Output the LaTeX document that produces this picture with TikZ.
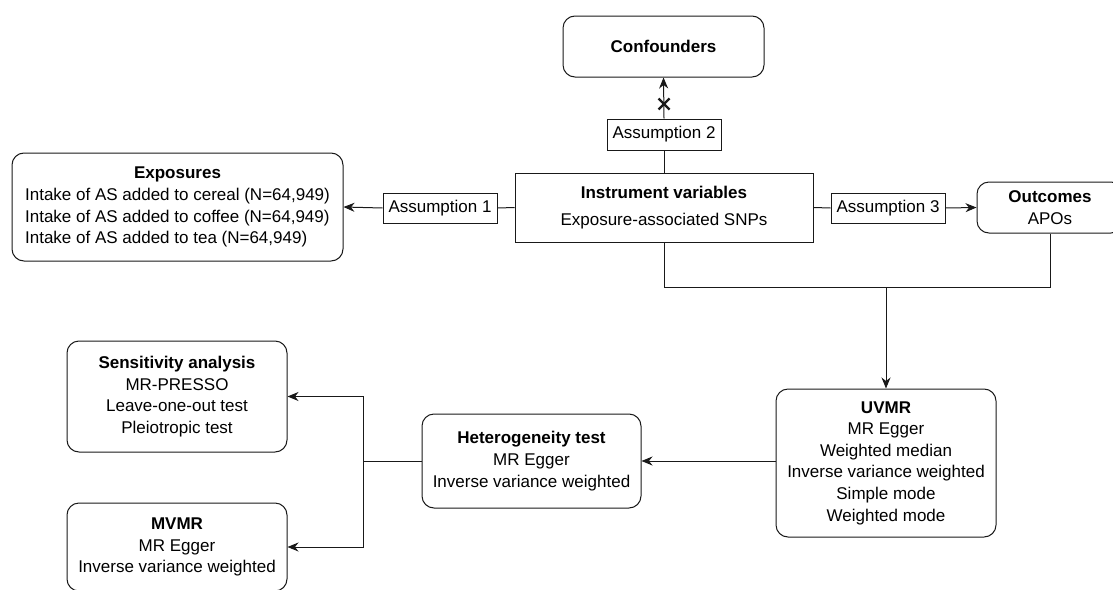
\documentclass[tikz,border=0pt]{standalone}
\usepackage{fontspec}
\setmainfont{Liberation Sans}
\usetikzlibrary{arrows.meta}
\begin{document}
\begin{tikzpicture}[x=1pt,y=-1pt,
  every node/.style={font=\fontsize{17}{21.6}\selectfont, text=black},
  rbox/.style={draw=black!90, rounded corners=12pt, line width=1pt, align=center, inner sep=0pt},
  sbox/.style={draw=black!90, line width=1pt, align=center, inner sep=0pt},
  conn/.style={line width=1pt, draw=black!90},
  arr/.style={conn, -{Stealth[length=11pt,width=9pt,inset=3.5pt]}}]
\useasboundingbox (0,0) rectangle (1113,589);
\clip (0,0) rectangle (1113,589);

\node[rbox, minimum width=201pt, minimum height=61pt] (conf) at (663.5,46.5) {\textbf{Confounders}};
\node[sbox, minimum width=114pt, minimum height=31pt] (a2) at (664,134.5) {Assumption 2};
\node[sbox, minimum width=298pt, minimum height=69pt] (iv) at (664,207.5) {\textbf{Instrument variables}\\[5pt]Exposure-associated SNPs};
\node[sbox, minimum width=114pt, minimum height=30pt] (a1) at (440,208) {Assumption 1};
\node[sbox, minimum width=114pt, minimum height=30pt] (a3) at (888,208) {Assumption 3};
\node[rbox, minimum width=331pt, minimum height=108pt] (exp) at (177.5,207)
  {\begin{tabular}{@{}l@{}}
   \multicolumn{1}{@{}c@{}}{\textbf{Exposures}}\\
   Intake of AS added to cereal (N=64,949)\\
   Intake of AS added to coffee (N=64,949)\\
   Intake of AS added to tea (N=64,949)
   \end{tabular}};
\node[rbox, minimum width=146pt, minimum height=51pt] (out) at (1050,207.5) {\textbf{Outcomes}\\APOs};
\node[rbox, minimum width=220pt, minimum height=148pt] (uvmr) at (886,463)
  {\textbf{UVMR}\\MR Egger\\Weighted median\\Inverse variance weighted\\Simple mode\\Weighted mode};
\node[rbox, minimum width=219pt, minimum height=94pt] (het) at (531.5,461)
  {\textbf{Heterogeneity test}\\MR Egger\\Inverse variance weighted};
\node[rbox, minimum width=220pt, minimum height=111pt] (sens) at (177,396.5)
  {\textbf{Sensitivity analysis}\\MR-PRESSO\\Leave-one-out test\\Pleiotropic test};
\node[rbox, minimum width=220pt, minimum height=88pt] (mvmr) at (177,547)
  {\textbf{MVMR}\\MR Egger\\Inverse variance weighted};

\coordinate (ivb) at (664,287);
\coordinate (outb) at (1050,287);
\coordinate (split) at (886,287);
\coordinate (junc) at (363,461);
\coordinate (xm) at (664,104);

\draw[conn] (iv.north) -- (a2.south);
\draw[arr] (a2.north) -- (conf.south);
\draw[line width=2.4pt, draw=black!90, shift={(xm)}] (-5.5,-5.5) -- (5.5,5.5) (-5.5,5.5) -- (5.5,-5.5);

\draw[conn] (iv.west) -- (a1.east);
\draw[arr] (a1.west) -- (exp.east);
\draw[conn] (iv.east) -- (a3.west);
\draw[arr] (a3.east) -- (out.west);

\draw[conn] (iv.south) -- (ivb) -- (outb) -- (out.south);
\draw[arr] (split) -- (uvmr.north);
\draw[arr] (het.east -| uvmr.west) -- (het.east);
\draw[conn] (het.west) -- (junc);
\draw[arr] (junc) |- (sens.east);
\draw[arr] (junc) |- (mvmr.east);
\end{tikzpicture}
\end{document}
